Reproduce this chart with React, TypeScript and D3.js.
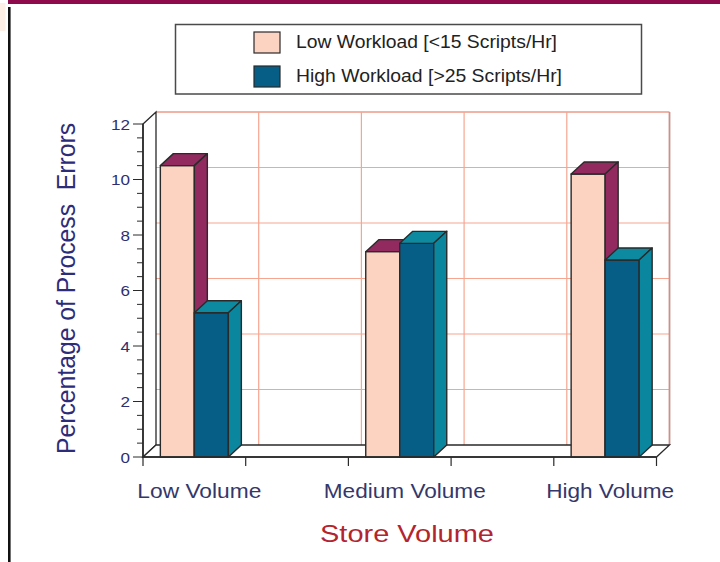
import React from "react";
import * as d3 from "d3";

const categories = ["Low Volume", "Medium Volume", "High Volume"];
const seriesNames = ["Low Workload [<15 Scripts/Hr]", "High Workload [>25 Scripts/Hr]"];
const lowWorkload = [10.5, 7.4, 10.2];
const highWorkload = [5.2, 7.7, 7.1];
const yTicks = [0, 2, 4, 6, 8, 10, 12];
const yMinorTicks = d3.range(0, 12.01, 0.5);
const slotIndex = [0, 1, 2, 3, 4];

const W = 720;
const H = 562;
const DX = 13;
const DY = -12;
const FONT = "'Liberation Sans', Arial, Helvetica, sans-serif";

const frontColors = ["#FCD3C1", "#065E87"];
const sideColors = ["#932A5F", "#0A879E"];
const topColors = ["#932A5F", "#0E8AA0"];
const OUT = "#2a2a2a";
const GRID = "#F6A690";

export default function App() {
  const y = d3.scaleLinear().domain([0, 12]).range([457, 124]);
  const x = d3.scaleBand<number>().domain(slotIndex).range([143, 656.5]).paddingInner(0).paddingOuter(0);
  const inner = d3.scaleBand<number>().domain([0, 1]).range([0, x.bandwidth()]).paddingInner(0).paddingOuter(0.51);
  const values = [lowWorkload, highWorkload];

  const x0 = 143;
  const x1 = 656.5;
  const yb = y(0);
  const yt = y(12);

  const pts = (arr: [number, number][]) => arr.map((p) => p.join(",")).join(" ");

  const bars: React.ReactNode[] = [];
  categories.forEach((c, ci) => {
    const bandX = x(ci * 2)!;
    [0, 1].forEach((si) => {
      const v = values[si][ci];
      const bx = bandX + inner(si)!;
      const bw = inner.bandwidth();
      const top = y(v);
      bars.push(
        <g key={`${ci}-${si}`} stroke={OUT} strokeWidth={1.4} strokeLinejoin="round">
          <rect x={bx} y={top} width={bw} height={yb - top} fill={frontColors[si]} />
          <polygon
            points={pts([[bx, top], [bx + bw, top], [bx + bw + DX, top + DY], [bx + DX, top + DY]])}
            fill={topColors[si]}
          />
          <polygon
            points={pts([[bx + bw, top], [bx + bw + DX, top + DY], [bx + bw + DX, yb + DY], [bx + bw, yb]])}
            fill={sideColors[si]}
          />
        </g>
      );
    });
  });

  return (
    <svg width={W} height={H} style={{ position: "absolute", left: 0, top: 0 }} fontFamily={FONT}>
      <rect x={0} y={0} width={W} height={H} fill="#fff" />
      {/* top band */}
      <rect x={8} y={0} width={W - 8} height={4} fill="#8E0A4C" />
      <rect x={0} y={3} width={5.5} height={28} fill="#FDEFE6" />
      <line x1={9.3} y1={7} x2={9.3} y2={H} stroke="#111" strokeWidth={2.6} />

      {/* legend */}
      <rect x={175.5} y={24.5} width={466} height={69.5} fill="#fff" stroke="#4a4a4a" strokeWidth={1.5} />
      {seriesNames.map((s, i) => (
        <g key={s}>
          <rect x={254} y={32 + i * 34} width={26} height={21} fill={frontColors[i]} stroke={OUT} strokeWidth={1.2} />
          <text x={296} y={48 + i * 34} fontSize={17.5} fill="#222" textLength={i === 0 ? 261 : 266} lengthAdjust="spacingAndGlyphs">
            {s}
          </text>
        </g>
      ))}

      {/* back wall grid */}
      {yTicks.slice(1).map((t) => (
        <line key={`hg${t}`} x1={x0 + DX} x2={x1 + DX} y1={y(t) + DY} y2={y(t) + DY} stroke={t === 12 ? "#E2694F" : GRID} strokeWidth={1.2} />
      ))}
      {slotIndex.slice(1).map((i) => (
        <line key={`vg${i}`} x1={x(i)! + DX} x2={x(i)! + DX} y1={yt + DY} y2={yb + DY} stroke={GRID} strokeWidth={1.2} />
      ))}
      <line x1={x1 + DX} x2={x1 + DX} y1={yt + DY} y2={yb + DY} stroke="#C8918A" strokeWidth={1.8} />

      {/* left wall */}
      <polygon points={pts([[x0, yt], [x0 + DX, yt + DY], [x0 + DX, yb + DY], [x0, yb]])} fill="#fff" stroke={OUT} strokeWidth={1.3} />
      {/* floor */}
      <polygon points={pts([[x0, yb], [x0 + DX, yb + DY], [x1 + DX, yb + DY], [x1, yb]])} fill="#fff" stroke={OUT} strokeWidth={1.3} />

      {bars}

      {/* axes */}
      <line x1={x0} x2={x0} y1={yt} y2={yb} stroke={OUT} strokeWidth={1.6} />
      <line x1={x0} x2={x1} y1={yb} y2={yb} stroke={OUT} strokeWidth={1.6} />
      {yMinorTicks.map((t) => (
        <line key={`mt${t}`} x1={t % 2 === 0 ? 133 : 137} x2={x0} y1={y(t)} y2={y(t)} stroke={OUT} strokeWidth={1} />
      ))}
      {yTicks.map((t) => (
        <text
          key={`yl${t}`}
          x={130}
          y={y(t)}
          dy="0.36em"
          textAnchor="end"
          fontSize={15.5}
          fill="#2E2F72"
          textLength={t >= 10 ? 19 : 9.5}
          lengthAdjust="spacingAndGlyphs"
        >
          {t}
        </text>
      ))}
      {[...slotIndex, 5].map((i) => {
        const xx = i === 5 ? x1 : x(i)!;
        return <line key={`xt${i}`} x1={xx} x2={xx} y1={yb} y2={yb + 9} stroke={OUT} strokeWidth={1.2} />;
      })}
      {categories.map((c, ci) => (
        <text
          key={c}
          x={x(ci * 2)! + x.bandwidth() / 2 + 5}
          y={498}
          textAnchor="middle"
          fontSize={20.5}
          fill="#35376B"
          textLength={[124, 162, 128][ci]}
          lengthAdjust="spacingAndGlyphs"
        >
          {c}
        </text>
      ))}
      <text x={407} y={542} textAnchor="middle" fontSize={24.5} fill="#B3242F" textLength={174} lengthAdjust="spacingAndGlyphs">
        Store Volume
      </text>
      <text
        transform="translate(75,288.5) rotate(-90)"
        textAnchor="middle"
        fontSize={26}
        fill="#2D2C78"
        textLength={331}
        lengthAdjust="spacingAndGlyphs"
        style={{ whiteSpace: "pre" }}
      >
        {"Percentage of Process  Errors"}
      </text>
    </svg>
  );
}
